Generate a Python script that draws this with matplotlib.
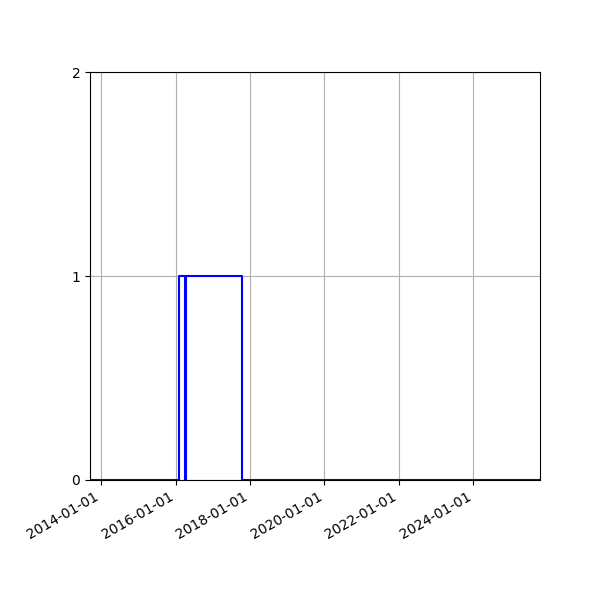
import numpy as np
import matplotlib
matplotlib.use("Agg")
import matplotlib.pyplot as plt
import matplotlib.dates as mdates

# state changes (step plot, value holds until next date)
dates = np.array(["2013-09-14", "2016-02-05", "2016-04-02", "2016-04-09",
                  "2017-10-16", "2025-10-15"], dtype="datetime64[D]")
state = [0, 1, 0, 1, 0, 0]

fig, ax = plt.subplots(figsize=(6, 6), dpi=100)
fig.subplots_adjust(left=0.15, right=0.9, top=0.88, bottom=0.2)

ax.step(dates, state, where="post", color="blue", linewidth=1.5)

ax.set_xlim(dates[0], dates[-1])
ax.set_ylim(0, 2)
ax.set_yticks([0, 1, 2])
ax.xaxis.set_major_locator(mdates.YearLocator(2))
ax.xaxis.set_major_formatter(mdates.DateFormatter("%Y-%m-%d"))
ax.grid(True)
for lbl in ax.get_xticklabels():
    lbl.set_rotation(30)
    lbl.set_ha("right")

fig.savefig("out.png")
